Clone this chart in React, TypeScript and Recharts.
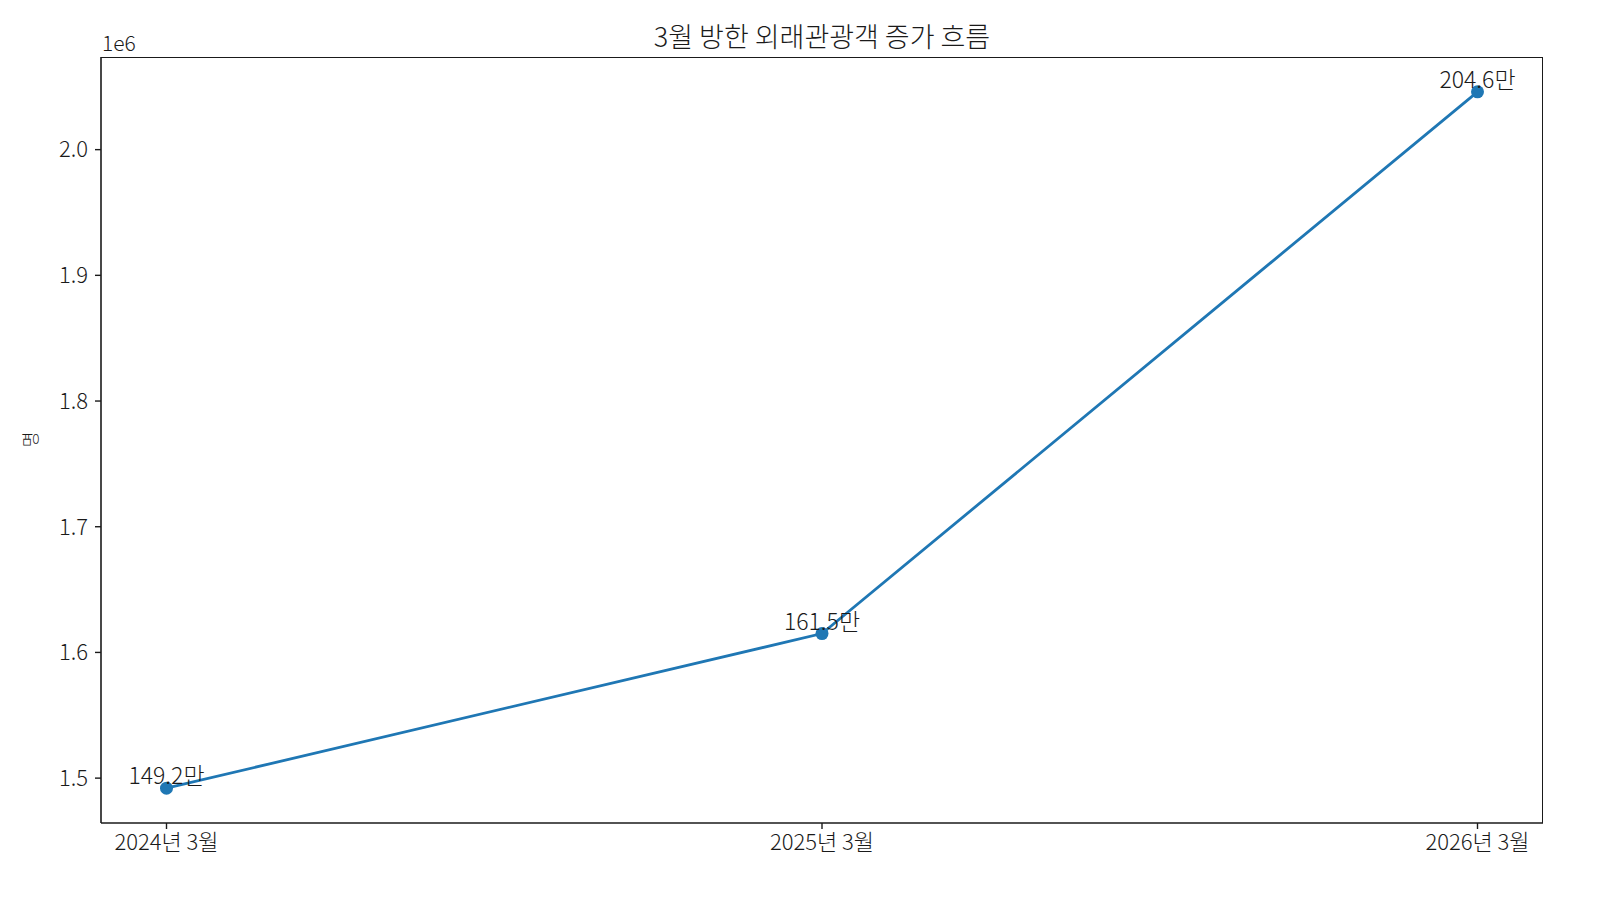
import { LineChart, Line, XAxis, YAxis, LabelList } from "recharts";

const months = ["2024년 3월", "2025년 3월", "2026년 3월"];
const visitors = [1492000, 1615000, 2046000];
const valueLabels = ["149.2만", "161.5만", "204.6만"];
const yTicks = [1500000, 1600000, 1700000, 1800000, 1900000, 2000000];

const FONT = "'Noto Sans CJK KR', 'Noto Sans', sans-serif";
const INK = "#1a1a1a";

const data = months.map((m, i) => ({ month: m, value: visitors[i], tag: valueLabels[i] }));

function PointTag(props: any) {
  const { x, y, index } = props;
  return (
    <text x={x} y={y - 4} textAnchor="middle" fontSize={23} fontWeight={300} fill={INK} fontFamily={FONT}>
      {valueLabels[index]}
    </text>
  );
}

export default function App() {
  return (
    <div style={{ position: "absolute", left: 0, top: 0, width: 1600, height: 900, overflow: "hidden", background: "#fff", fontFamily: FONT, fontWeight: 300 }}>
      <div style={{ position: "absolute", left: 422, width: 800, top: 16, textAlign: "center", fontSize: 27, color: INK }}>
        3월 방한 외래관광객 증가 흐름
      </div>
      <div style={{ position: "absolute", left: 102, top: 27, fontSize: 21, color: INK }}>1e6</div>
      <div
        style={{
          position: "absolute", left: 22, top: 427, fontSize: 17, color: INK,
          transform: "rotate(-90deg)", transformOrigin: "center",
        }}
      >
        명
      </div>
      {/* top and right edges of the frame */}
      <div style={{ position: "absolute", left: 101, top: 56.5, width: 1442, height: 766, borderTop: `1.6px solid ${INK}`, borderRight: `1.6px solid ${INK}`, boxSizing: "border-box", pointerEvents: "none" }} />
      <LineChart width={1600} height={900} data={data} margin={{ top: 57, right: 57, bottom: 0, left: 0 }}>
        <XAxis
          dataKey="month"
          height={77}
          padding={{ left: 65.5, right: 65.5 }}
          axisLine={{ stroke: INK, strokeWidth: 1.6 }}
          tickLine={{ stroke: INK, strokeWidth: 1.4 }}
          tickSize={6}
          tickMargin={5}
          tick={{ fill: INK, fontSize: 22, fontWeight: 300, fontFamily: FONT }}
        />
        <YAxis
          width={101}
          domain={[1464300, 2073700]}
          ticks={yTicks}
          allowDataOverflow
          tickFormatter={(v: number) => (v / 1e6).toFixed(1)}
          axisLine={{ stroke: INK, strokeWidth: 1.6 }}
          tickLine={{ stroke: INK, strokeWidth: 1.4 }}
          tickSize={6}
          tickMargin={7}
          tick={{ fill: INK, fontSize: 22, fontWeight: 300, fontFamily: FONT }}
        />
        <Line
          dataKey="value"
          stroke="#1f77b4"
          strokeWidth={2.8}
          dot={{ r: 6.5, fill: "#1f77b4", stroke: "none" }}
          activeDot={false}
          isAnimationActive={false}
        >
          <LabelList dataKey="tag" content={<PointTag />} />
        </Line>
      </LineChart>
    </div>
  );
}
